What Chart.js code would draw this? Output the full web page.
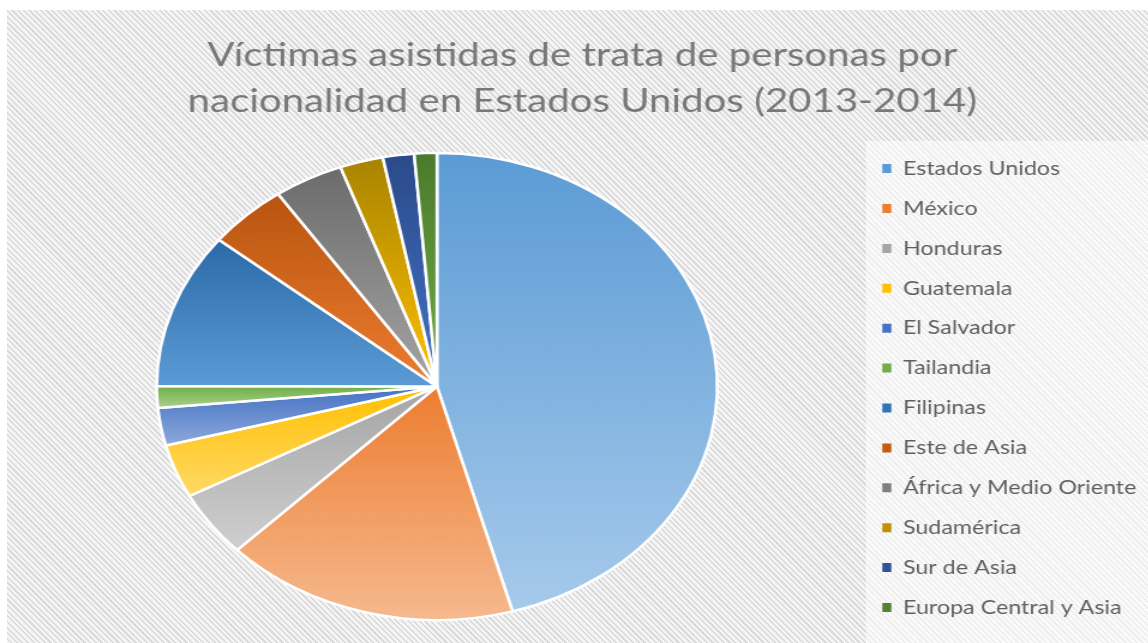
<!DOCTYPE html>
<html lang="es">
<head>
<meta charset="utf-8">
<title>Víctimas asistidas de trata de personas</title>
<script src="https://cdn.jsdelivr.net/npm/chart.js@4.4.1/dist/chart.umd.min.js"></script>
<style>
html,body{margin:0;padding:0;width:1148px;height:643px;overflow:hidden;background:#fff;}
#hatch{position:absolute;left:7px;top:10px;right:0;bottom:0;
  background:repeating-linear-gradient(45deg,#f4f4f4 0px,#f4f4f4 2.4px,#dadada 2.4px,#dadada 4px);}
#legbg{position:absolute;left:866px;top:141px;right:0;bottom:0;background:rgba(255,255,255,0.55);}
#wrap{position:absolute;left:0;top:0;width:957px;height:643px;transform:scaleX(1.2);transform-origin:0 0;}
</style>
</head>
<body>
<div id="hatch"></div>
<div id="legbg"></div>
<div id="wrap"><canvas id="c"></canvas></div>
<script>
const titleLines = ['Víctimas asistidas de trata de personas por', 'nacionalidad en Estados Unidos (2013-2014)'];
const categories = ['Estados Unidos', 'México', 'Honduras', 'Guatemala', 'El Salvador', 'Tailandia',
  'Filipinas', 'Este de Asia', 'África y Medio Oriente', 'Sudamérica', 'Sur de Asia', 'Europa Central y Asia'];
const shares = [45.7, 17.0, 4.6, 3.7, 2.6, 1.5, 10.8, 4.6, 4.0, 2.5, 1.8, 1.3];

const topColors = ['#5B9BD5', '#ED7D31', '#A5A5A5', '#FFC000', '#4472C4', '#70AD47',
  '#2B6AA8', '#B8540F', '#6B6B6B', '#A88400', '#2A4A8A', '#4A7A2C'];
const bottomColors = ['#A6CAEB', '#F6B98E', '#CFCFCF', '#FFD966', '#8EA9DB', '#A9D18E',
  '#5B9BD5', '#ED7D31', '#A5A5A5', '#FFC000', '#4472C4', '#70AD47'];
const legendColors = ['#5B9BD5', '#ED7D31', '#A5A5A5', '#FFC000', '#4472C4', '#70AD47',
  '#2E75B6', '#C55A11', '#7F7F7F', '#BF9000', '#2F5597', '#548235'];

const RADIUS_PCT = 91.5;
const BORDER_W = 2.5;

function sliceFill(ctx) {
  const chart = ctx.chart, area = chart.chartArea;
  const i = ctx.dataIndex;
  if (!area || i === undefined) return topColors[i] || '#999';
  const cx = (area.left + area.right) / 2, cy = (area.top + area.bottom) / 2;
  const maxR = (Math.min(area.right - area.left, area.bottom - area.top) - BORDER_W) / 2;
  const R = maxR * RADIUS_PCT / 100;
  const vals = ctx.dataset.data;
  const total = vals.reduce((a, b) => a + b, 0);
  let a0 = -Math.PI / 2;
  for (let k = 0; k < i; k++) a0 += vals[k] / total * 2 * Math.PI;
  const a1 = a0 + vals[i] / total * 2 * Math.PI;
  const ys = [cy, cy + R * Math.sin(a0), cy + R * Math.sin(a1)];
  for (const t of [-Math.PI / 2, Math.PI / 2, 3 * Math.PI / 2]) {
    if (t >= a0 - 1e-9 && t <= a1 + 1e-9) ys.push(cy + R * Math.sin(t));
  }
  const y0 = Math.min(...ys), y1 = Math.max(...ys);
  const g = chart.ctx.createLinearGradient(0, y0, 0, Math.max(y1, y0 + 1));
  g.addColorStop(0, topColors[i]);
  g.addColorStop(1, bottomColors[i]);
  return g;
}

new Chart(document.getElementById('c'), {
  type: 'pie',
  data: {
    labels: categories,
    datasets: [{
      data: shares,
      backgroundColor: sliceFill,
      borderColor: '#ffffff',
      borderWidth: BORDER_W,
      radius: RADIUS_PCT + '%'
    }]
  },
  options: {
    responsive: true,
    maintainAspectRatio: false,
    animation: false,
    devicePixelRatio: 1,
    layout: { padding: { left: 13.5, right: 0, top: 0, bottom: 0 } },
    plugins: {
      tooltip: { enabled: false },
      title: {
        display: true,
        text: titleLines,
        color: '#787878',
        font: { family: 'Lato', size: 33.5, weight: 'normal', lineHeight: 1.35 },
        padding: { top: 33, bottom: 6.5 }
      },
      legend: {
        position: 'right',
        align: 'start',
        title: { display: true, text: ' ', padding: { top: 124, bottom: 0 }, font: { size: 12 } },
        labels: {
          boxWidth: 7.5,
          boxHeight: 9,
          padding: 20.5,
          color: '#5f5f5f',
          font: { family: 'Lato', size: 19.4 },
          generateLabels(chart) {
            const items = Chart.overrides.pie.plugins.legend.labels.generateLabels(chart);
            items.forEach((it, k) => { it.fillStyle = legendColors[k]; it.strokeStyle = legendColors[k]; it.lineWidth = 0; });
            return items;
          }
        }
      }
    }
  }
});
</script>
</body>
</html>
